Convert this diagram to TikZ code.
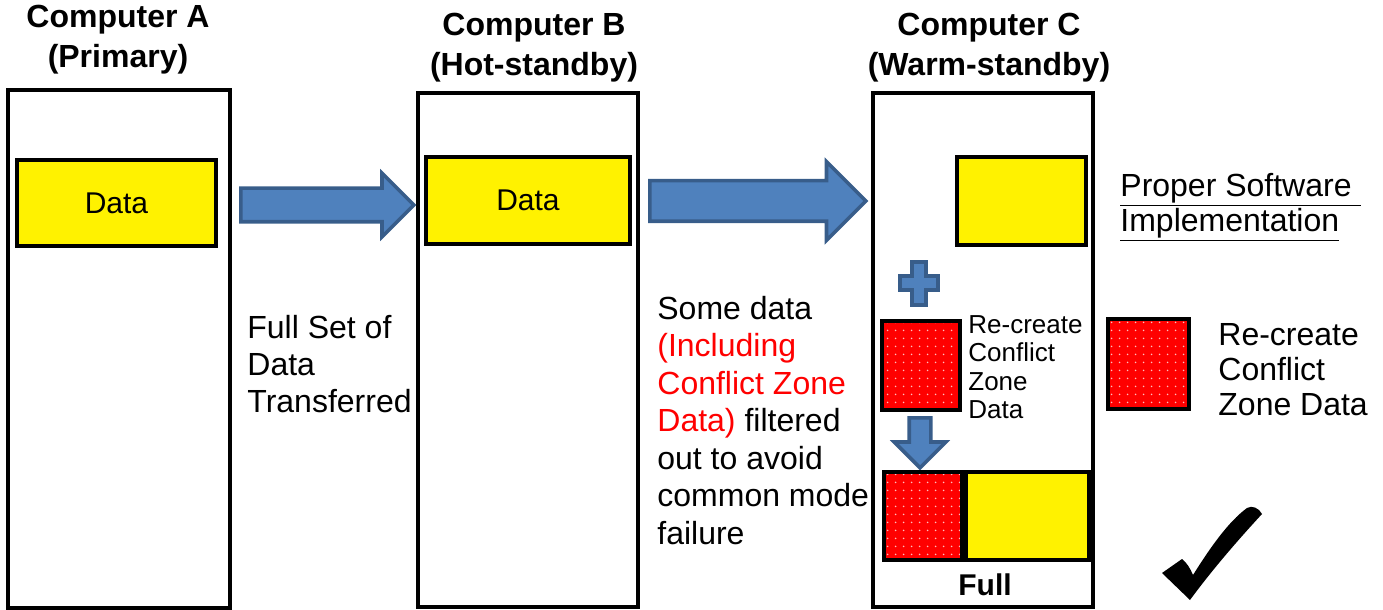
\documentclass[tikz,border=0pt]{standalone}
\usepackage{fontspec}
\setmainfont{Liberation Sans}
\usetikzlibrary{shapes.arrows,patterns.meta}

\definecolor{arrowblue}{HTML}{4F81BD}
\definecolor{arrowedge}{HTML}{385D8A}

\tikzset{
  compbox/.style={draw, line width=2pt, rectangle, inner sep=0pt},
  databox/.style={draw, line width=2pt, fill=yellow, inner sep=0pt, font=\fontsize{15}{18}\selectfont},
  zonebox/.style={draw, line width=2pt, preaction={fill=red}, pattern={Dots[distance=4pt,radius=0.5pt]}, pattern color=white!75!red, inner sep=0pt},
  bluearrow/.style={single arrow, draw=arrowedge, fill=arrowblue, line width=1.8pt, inner xsep=0pt, single arrow tip angle=90, anchor=tail},
  title/.style={font=\bfseries\fontsize{16}{20}\selectfont, align=center},
  note/.style={font=\fontsize{16}{18.5}\selectfont, align=left, anchor=west, inner sep=0pt},
}

\begin{document}
\begin{tikzpicture}[x=0.5pt, y=-0.5pt] % 画像と同じ向きの座標
  \useasboundingbox (0,0) rectangle (1383,610);
  % コンピュータの枠
  \node[compbox, minimum width=111pt, minimum height=259pt] (compA) at (119,349) {};
  \node[compbox, minimum width=110pt, minimum height=257pt] (compB) at (528,350) {};
  \node[compbox, minimum width=110pt, minimum height=257pt] (compC) at (983,350) {};
  \node[title] (titleA) at (118,40) {Computer A\\(Primary)};
  \node[title] (titleB) at (534,48) {Computer B\\(Hot-standby)};
  \node[title] (titleC) at (989,48) {Computer C\\(Warm-standby)};
  % データ
  \node[databox, minimum width=99.5pt, minimum height=43pt] (dataA) at (116.5,203) {Data};
  \node[databox, minimum width=102pt, minimum height=43.5pt] (dataB) at (528,200.5) {Data};
  \node[databox, minimum width=64.5pt, minimum height=44pt] (dataC) at (1021.5,201) {};
  % 転送の矢印、anchor=tailで根元の位置を指定
  \node[bluearrow, minimum height=86.5pt, inner ysep=7.5pt, single arrow head extend=7.5pt] (sendAB) at (239,205) {};
  \node[bluearrow, minimum height=108pt, inner ysep=9.25pt, single arrow head extend=9.5pt] (sendBC) at (648,201) {};
  \node[note] (fullSet) at (247,364) {Full Set of\\Data\\Transferred};
  \node[note, font=\fontsize{16}{18.75}\selectfont] (someData) at (657,420.5) {Some data\\\textcolor{red}{(Including}\\\textcolor{red}{Conflict Zone}\\\textcolor{red}{Data)} filtered\\out to avoid\\common mode\\failure};
  % 足し算の記号
  \filldraw[draw=arrowedge, fill=arrowblue, line width=1.8pt] (912,262) -- (926,262) -- (926,276) -- (938,276) -- (938,290) -- (926,290) -- (926,305) -- (912,305) -- (912,290) -- (900,290) -- (900,276) -- (912,276) -- cycle;
  \node[zonebox, minimum width=39pt, minimum height=44.5pt] (zoneC) at (921,365.5) {};
  \node[note, font=\fontsize{13}{14.2}\selectfont] (zoneCtext) at (968,367) {Re-create\\Conflict\\Zone\\Data};
  \node[bluearrow, minimum height=25pt, inner ysep=4.5pt, single arrow head extend=7.5pt, rotate=-90] (mergeC) at (920,416) {};
  % 合わせたデータ
  \node[zonebox, minimum width=39pt, minimum height=44pt] (fullZone) at (923,516) {};
  \node[databox, minimum width=61.5pt, minimum height=44pt, anchor=west] (fullData) at (fullZone.east) {};
  \node[font=\bfseries\fontsize{15}{18}\selectfont] (fullLabel) at (985,585) {Full};
  % 右側の説明
  \node[note, font=\fontsize{16}{17.5}\selectfont] (proper) at (1120,207.5) {\underline{Proper Software\ }\\\underline{Implementation}};
  \node[zonebox, minimum width=40.5pt, minimum height=45pt] (zoneR) at (1148.5,364) {};
  \node[note, font=\fontsize{16}{17.5}\selectfont] (zoneRtext) at (1218,369.5) {Re-create\\Conflict\\Zone Data};
  % チェックマーク
  \fill (1162,573) -- (1182,559) .. controls (1187,563) and (1190,568) .. (1193,575) .. controls (1210,548) and (1228,522) .. (1247,508) .. controls (1252,505) and (1259,508) .. (1262,514) .. controls (1238,540) and (1212,570) .. (1190,600) -- cycle;
\end{tikzpicture}
\end{document}
